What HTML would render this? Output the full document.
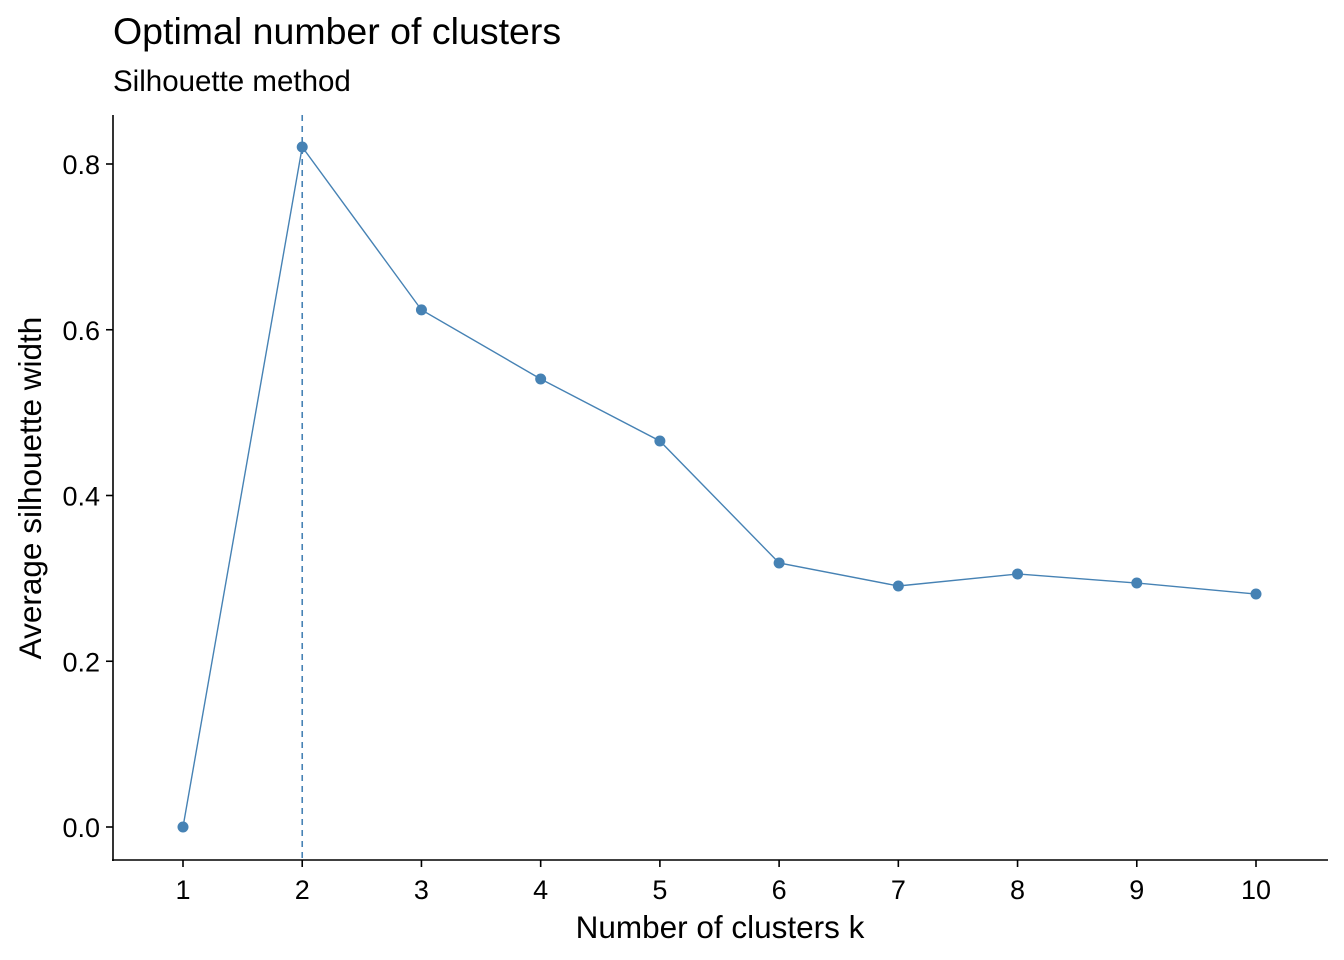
<!DOCTYPE html>
<html><head><meta charset="utf-8">
<style>
html,body{margin:0;padding:0;background:#fff;}
svg{display:block;font-family:"Liberation Sans",Arial,sans-serif;}
</style></head>
<body>
<svg id="chart" width="1344" height="960" viewBox="0 0 1344 960" xmlns="http://www.w3.org/2000/svg">
<text x="113" y="44" font-size="37.5" fill="#000">Optimal number of clusters</text>
<text x="113" y="91" font-size="29.5" fill="#000">Silhouette method</text>
<g id="axes"></g>
<g id="marks"></g>
<text x="720" y="938" font-size="31.5" text-anchor="middle" fill="#000">Number of clusters k</text>
<text transform="translate(41,488) rotate(-90)" font-size="31.5" text-anchor="middle" fill="#000">Average silhouette width</text>
</svg>
<script>
const categories = [1,2,3,4,5,6,7,8,9,10];
const silhouetteValues = [0, 0.8205, 0.624, 0.5406, 0.4658, 0.3186, 0.2908, 0.3053, 0.2944, 0.2811];
const yTicks = [0, 0.2, 0.4, 0.6, 0.8];
const yTickLabels = ["0.0","0.2","0.4","0.6","0.8"];
const optimalK = 2;

const NS = "http://www.w3.org/2000/svg";
const xScale = k => 183 + (k - 1) * (1256 - 183) / 9;
const yScale = v => 827 - v * (827 - 164) / 0.8;
const axes = document.getElementById('axes');
const marks = document.getElementById('marks');
function mk(tag, attrs, parent){const e=document.createElementNS(NS,tag);for(const k in attrs)e.setAttribute(k,attrs[k]);parent.appendChild(e);return e;}

let el = mk('line',{x1:113,y1:115,x2:113,y2:861,stroke:'#000','stroke-width':1.6},axes);


el = mk('line',{x1:112,y1:860,x2:1328,y2:860,stroke:'#000','stroke-width':1.6},axes);



yTicks.forEach((v,i)=>{
  const y=yScale(v);
  const t=mk('line',{x1:106,y1:y,x2:113,y2:y,stroke:'#000','stroke-width':1.6},axes);
  
  
  const l=mk('text',{x:100,y:y+10,'font-size':27,'text-anchor':'end',fill:'#000'},axes);
  l.textContent=yTickLabels[i];
  
  
});
categories.forEach(k=>{
  const x=xScale(k);
  const t=mk('line',{x1:x,y1:860,x2:x,y2:867,stroke:'#000','stroke-width':1.6},axes);
  
  
  const l=mk('text',{x:x,y:899,'font-size':27,'text-anchor':'middle',fill:'#000'},axes);
  l.textContent=String(k);
  
  
});

const vline=mk('line',{x1:xScale(optimalK),y1:115,x2:xScale(optimalK),y2:860,stroke:'#4682B4','stroke-width':1.6,'stroke-dasharray':'6,5'},marks);



const pts=categories.map((k,i)=>xScale(k)+','+yScale(silhouetteValues[i])).join(' ');
const pl=mk('polyline',{points:pts,fill:'none',stroke:'#4682B4','stroke-width':1.4},marks);


categories.forEach((k,i)=>{
  const c=mk('circle',{cx:xScale(k),cy:yScale(silhouetteValues[i]),r:5.5,fill:'#4682B4'},marks);
  
  
});
</script>
</body></html>
